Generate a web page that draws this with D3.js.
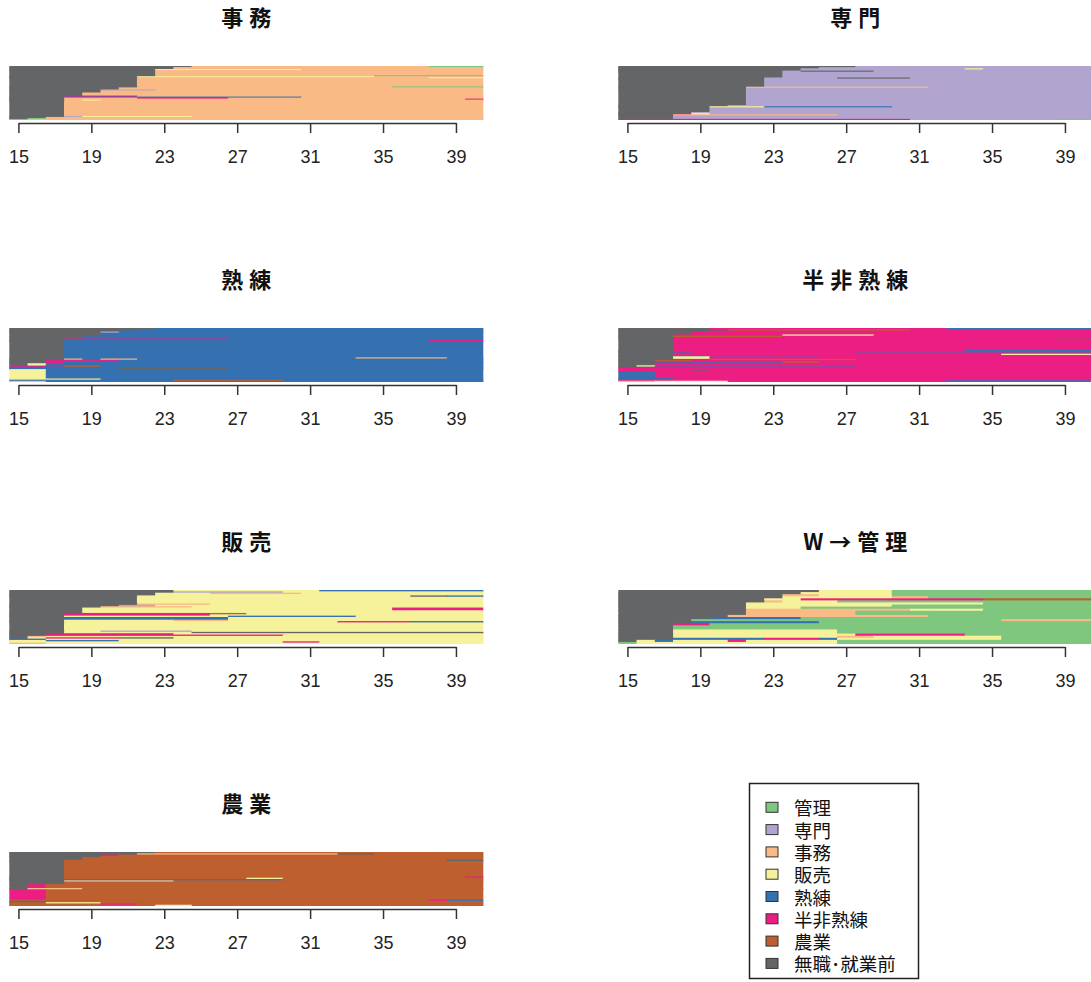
<!DOCTYPE html>
<html>
<head>
<meta charset="utf-8">
<script src="https://cdn.jsdelivr.net/npm/d3@7"></script>
<style>
  body { margin: 0; background: #fff; }
  svg { display: block; }
</style>
</head>
<body>
<div id="chart"></div>
<script>
// states: K 管理, S 専門, J 事務, H 販売, R 熟練, U 半非熟練, A 農業, N 無職・就業前
const stateCodes = ["K", "S", "J", "H", "R", "U", "A", "N"];
const stateLabels = ["管理", "専門", "事務", "販売", "熟練", "半非熟練", "農業", "無職･就業前"];
const stateColors = ["#7fc67f", "#b1a5cf", "#f9ba86", "#f6f29b", "#3571b0", "#ec1e84", "#bd5f2e", "#646567"];

const firstAge = 15, lastAge = 40;
const tickAges = [15, 19, 23, 27, 31, 35, 39];
const panelTitles = ["事務", "専門", "熟練", "半非熟練", "販売", "W→管理", "農業"];

// each row: [number of sequences, spells as run lengths from age 15]
const seqJimu = [
  [1, "N10 J13 K3"], [2, "N9 J17"], [1, "N8 H8 J10"], [5, "N8 J18"], [1, "N8 J12 K6"],
  [1, "N7 H13 J6"], [1, "N7 J16 H3"], [8, "N7 J19"], [1, "N7 J14 K5"], [2, "N6 J20"],
  [1, "N5 S3 J18"], [2, "N5 J21"], [3, "N4 J22"], [1, "N3 U4 J19"], [1, "N3 R13 J10"],
  [1, "N3 J4 U5 J14"], [1, "N3 J22 U1"], [1, "N3 J1 H1 J21"], [15, "N3 J23"],
  [1, "N3 S1 H6 J16"], [1, "N2 J24"], [1, "N1 K1 J24"], [1, "K1 J25"]
];
const seqSenmon = [
  [1, "N13 S13"], [1, "N11 S15"], [1, "N10 S9 H1 S6"], [1, "N10 S16"], [1, "N9 S1 N4 S12"],
  [5, "N9 S17"], [1, "N8 S4 N4 S10"], [7, "N8 S18"], [1, "N7 J10 S9"], [15, "N7 S19"],
  [1, "N6 S20"], [1, "N5 H3 R7 S11"], [4, "N5 S21"], [1, "N4 S22"], [1, "N3 U1 H1 S21"],
  [1, "N3 J9 S14"], [3, "N3 S23"], [1, "U16 S8 K2"]
];
const seqJukuren = [
  [1, "N8 R18"], [1, "N7 R19"], [1, "N6 R20"], [1, "N5 S1 R20"], [3, "N5 R21"],
  [2, "N4 R22"], [1, "N3 U9 R14"], [1, "N3 R20 U3"], [14, "N3 R23"], [1, "N3 R16 J5 R2"],
  [1, "N3 J1 R1 J2 R19"], [1, "N2 U4 R20"], [1, "N2 R24"], [1, "N2 U1 R23"], [2, "N1 H1 R24"],
  [1, "U2 R1 A2 R21"], [1, "R2 U1 R23"], [1, "R6 N6 R14"], [8, "H2 R24"], [1, "H5 R21"],
  [1, "R9 A6 R11"], [1, "J2 R24"]
];
const seqHanHijukuren = [
  [1, "N5 U13 R8"], [1, "N6 A10 U10"], [1, "N5 U21"], [2, "N4 U22"], [1, "N3 U6 H5 U12"],
  [1, "N3 A6 U17"], [1, "N3 U21 N2"], [9, "N3 U23"], [1, "N3 U16 R7"], [1, "N3 U10 R13"],
  [1, "N3 R1 U22"], [1, "N3 U18 H5"], [1, "N3 R8 U15"], [2, "N3 H2 U21"], [1, "N3 U2 A8 U13"],
  [1, "N2 A2 U22"], [1, "N2 R7 A2 U15"], [2, "N2 U24"], [1, "N1 H1 U24"], [1, "N2 R11 U13"],
  [2, "U26"], [1, "U4 N1 U21"], [5, "R2 U24"], [1, "R3 U23"], [1, "U18 R8"], [1, "J2 H4 U20"]
];
const seqHanbai = [
  [1, "N9 H8 R9"], [1, "N9 S6 H11"], [1, "N8 H3 J5 H10"], [1, "N8 H18"], [1, "N7 H15 N2 R2"],
  [5, "N7 H19"], [1, "N7 J4 H15"], [1, "N6 S2 H18"], [1, "N5 J5 H16"], [2, "N4 H17 U5"],
  [2, "N4 H22"], [1, "N3 U8 A2 H13"], [1, "N3 U8 H15"], [1, "N3 H9 R7 H7"], [2, "N3 R9 H14"],
  [1, "N3 H6 J3 H14"], [1, "N3 H15 U4 R4"], [6, "N3 H23"], [1, "N3 H2 S5 H16"], [1, "N3 H7 N16"],
  [1, "N2 U7 H17"], [1, "N2 U13 H11"], [1, "N1 J1 H24"], [1, "N1 H1 U4 N3 H17"], [1, "R2 H24"],
  [1, "H2 R4 H20"], [1, "H15 U2 H9"], [1, "J2 H24"]
];
const seqKanri = [
  [1, "N11 H4 K11"], [1, "N10 H5 K11"], [1, "N9 J2 H4 K11"], [1, "N9 H6 J2 K9"],
  [1, "N8 H2 U10 A6"], [1, "N8 J1 H3 K14"], [1, "N7 H13 K6"], [1, "N7 H8 K11"], [1, "N7 H3 K16"],
  [1, "N7 J9 H4 K6"], [2, "N7 J6 K13"], [1, "N6 J11 K9"], [1, "N5 R5 K16"], [1, "N4 K17 J5"],
  [1, "N4 R7 K15"], [1, "N3 U2 K21"], [2, "N3 K23"], [2, "N3 H9 K14"], [1, "N3 H10 U6 K7"],
  [1, "N3 H9 J2 H7 K5"], [1, "N3 R5 U3 R1 H9 K5"], [1, "N1 H1 R1 H3 U1 H5 K14"], [1, "K1 H11 K14"]
];
const seqNougyou = [
  [1, "N8 A18"], [1, "N7 J11 N2 A6"], [1, "N5 U1 A20"], [1, "N5 A21"], [2, "N4 A22"],
  [1, "N3 A21 N2"], [12, "N3 A23"], [1, "N3 A22 U1"], [1, "N3 A10 H2 A11"], [1, "N3 R12 A11"],
  [1, "N3 J6 A17"], [2, "N3 A23"], [3, "N1 U1 A24"], [1, "N1 J3 A22"], [8, "U2 A24"],
  [1, "A23 U1 R2"], [1, "R2 A24"], [1, "A2 H3 A21"], [1, "A5 U2 A19"], [1, "A8 H2 A16"]
];
const panelSeqs = [seqJimu, seqSenmon, seqJukuren, seqHanHijukuren, seqHanbai, seqKanri, seqNougyou];

const width = 1091, height = 982;
const colLeft = [9.3, 618.3];
const rowTop = [66, 328, 590, 852];
const plotW = 474, plotH = 54;

const color = d3.scaleOrdinal().domain(stateCodes).range(stateColors);

const svg = d3.select("#chart").append("svg")
  .attr("width", width)
  .attr("height", height);

function spells(str) {
  let age = firstAge;
  return str.split(" ").map(tok => {
    let len = +tok.slice(1);
    let s = { state: tok[0], start: age, end: age + len };
    age += len;
    return s;
  });
}

panelSeqs.forEach((seqs, i) => {
  let left = colLeft[i % 2], top = rowTop[Math.floor(i / 2)];
  let cw = plotW / (lastAge - firstAge + 1);

  let x = d3.scaleLinear()
    .domain([15, 39])
    .range([left + cw / 2, left + cw * 24.5]);

  let total = d3.sum(seqs, d => d[0]);
  let y = d3.scaleLinear().domain([0, total]).range([top, top + plotH]);

  let g = svg.append("g").attr("class", "panel");

  // rows drawn top to bottom, each one overlapping the next a little so no seams show
  let idx = 0;
  seqs.forEach(([n, str], r) => {
    let y0 = y(idx), y1 = y(idx + n);
    let last = r === seqs.length - 1;
    let sp = spells(str);
    sp.forEach((s, k) => {
      g.append("rect")
        .attr("x", x(s.start - 0.5))
        .attr("y", y0)
        .attr("width", x(s.end - 0.5) - x(s.start - 0.5) + (k < sp.length - 1 ? 0.8 : 0))
        .attr("height", y1 - y0 + (last ? 0 : 0.9))
        .attr("fill", color(s.state));
    });
    idx += n;
  });

  let ax = svg.append("g")
    .attr("transform", `translate(0,${top + plotH + 3})`)
    .call(d3.axisBottom(x).tickValues(tickAges).tickSize(10).tickSizeOuter(0).tickPadding(17));
  ax.select(".domain").attr("stroke", "#333").attr("stroke-width", 1.5);
  ax.selectAll(".tick line").attr("stroke", "#333").attr("stroke-width", 1.5);
  ax.selectAll(".tick text")
    .attr("fill", "#222")
    .style("font-family", "'Liberation Sans', Arial, sans-serif")
    .style("font-size", "18px");

  svg.append("text")
    .text(panelTitles[i])
    .attr("x", left + plotW / 2 + 3)
    .attr("y", top - 40)
    .attr("text-anchor", "middle")
    .style("font-family", "'Noto Sans CJK JP', sans-serif")
    .style("font-weight", "bold")
    .style("font-size", "22px")
    .style("letter-spacing", "6px")
    .attr("fill", "#111");
});

// legend
const legend = svg.append("g");
legend.append("rect")
  .attr("x", 749.5).attr("y", 783.5)
  .attr("width", 169).attr("height", 195)
  .attr("fill", "none").attr("stroke", "#222").attr("stroke-width", 1.5);

stateLabels.forEach((lab, i) => {
  let cy = 807.3 + i * 22.3;
  legend.append("rect")
    .attr("x", 766).attr("y", cy - 5)
    .attr("width", 12).attr("height", 10)
    .attr("fill", stateColors[i])
    .attr("stroke", "#333").attr("stroke-width", 1);
  legend.append("text")
    .text(lab)
    .attr("x", 794).attr("y", cy)
    .attr("dominant-baseline", "central")
    .style("font-family", "'Noto Sans CJK JP', sans-serif")
    .style("font-size", "18.5px")
    .attr("fill", "#111");
});
</script>
</body>
</html>
